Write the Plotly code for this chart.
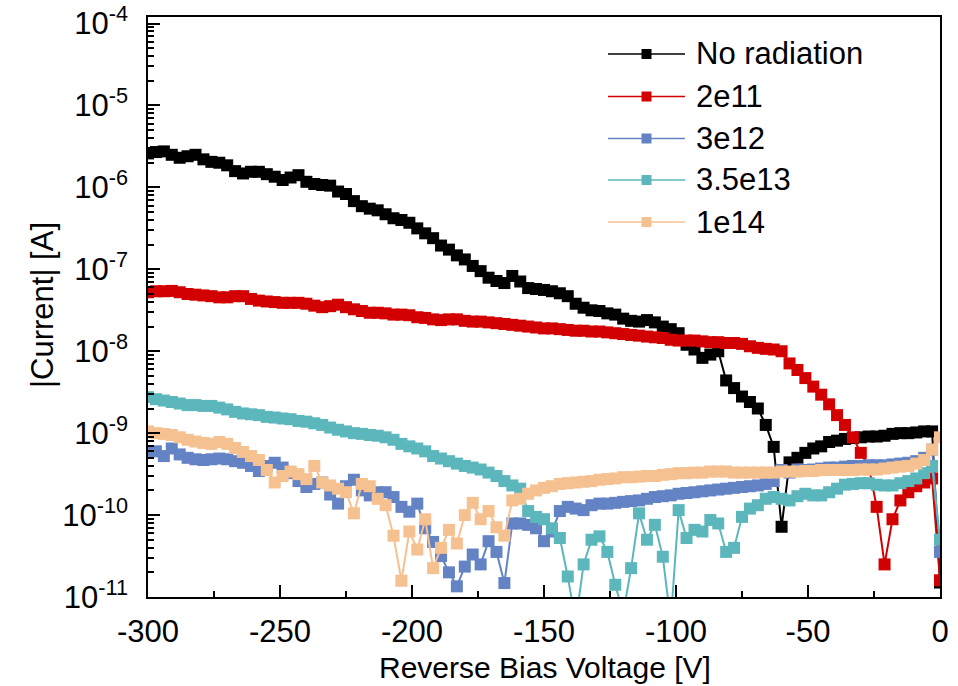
import plotly.graph_objects as go

# Reverse bias voltage [V]
voltage = [
    -300, -297, -294, -291, -288, -285, -282, -279, -276, -273,
    -270, -267, -264, -261, -258, -255, -252, -249, -246, -243,
    -240, -237, -234, -231, -228, -225, -222, -219, -216, -213,
    -210, -207, -204, -201, -198, -195, -192, -189, -186, -183,
    -180, -177, -174, -171, -168, -165, -162, -159, -156, -153,
    -150, -147, -144, -141, -138, -135, -132, -129, -126, -123,
    -120, -117, -114, -111, -108, -105, -102, -99, -96, -93,
    -90, -87, -84, -81, -78, -75, -72, -69, -66, -63,
    -60, -57, -54, -51, -48, -45, -42, -39, -36, -33,
    -30, -27, -24, -21, -18, -15, -12, -9, -6, -3,
    0,
]

# |Current| [A]
current_no_radiation = [
    2.6e-6, 2.7e-6, 2.75e-6, 2.5e-6, 2.3e-6, 2.4e-6, 2.5e-6, 2.2e-6, 2.05e-6, 2.0e-6,
    1.86e-6, 1.58e-6, 1.48e-6, 1.55e-6, 1.55e-6, 1.45e-6, 1.35e-6, 1.23e-6, 1.32e-6, 1.41e-6,
    1.17e-6, 1.10e-6, 1.07e-6, 1.05e-6, 8.9e-7, 8.3e-7, 6.8e-7, 5.9e-7, 5.5e-7, 5.25e-7,
    4.7e-7, 4.2e-7, 4.0e-7, 3.7e-7, 3.16e-7, 2.75e-7, 2.4e-7, 1.95e-7, 1.74e-7, 1.48e-7,
    1.32e-7, 1.10e-7, 9.5e-8, 7.9e-8, 7.2e-8, 6.8e-8, 8.3e-8, 7.1e-8, 5.9e-8, 5.75e-8,
    5.6e-8, 5.4e-8, 5.1e-8, 4.7e-8, 3.8e-8, 3.4e-8, 3.16e-8, 3.1e-8, 2.9e-8, 2.8e-8,
    2.5e-8, 2.35e-8, 2.3e-8, 2.4e-8, 2.25e-8, 2.0e-8, 1.86e-8, 1.66e-8, 1.2e-8, 1.05e-8,
    8.3e-9, 9.1e-9, 1.0e-8, 4.4e-9, 3.55e-9, 2.8e-9, 2.4e-9, 2.0e-9, 1.26e-9, 6.8e-10,
    7.2e-11, 4.4e-10, 5.0e-10, 5.75e-10, 6.5e-10, 6.9e-10, 7.8e-10, 8.1e-10, 8.5e-10, 8.7e-10,
    8.9e-10, 9.1e-10, 9.1e-10, 9.3e-10, 9.8e-10, 1.0e-9, 1.0e-9, 1.02e-9, 1.05e-9, 1.05e-9,
    1.5e-11,
]

current_2e11 = [
    5.25e-8, 5.4e-8, 5.4e-8, 5.45e-8, 5.25e-8, 5.0e-8, 4.9e-8, 4.8e-8, 4.7e-8, 4.55e-8,
    4.55e-8, 4.7e-8, 4.7e-8, 4.35e-8, 4.15e-8, 4.05e-8, 3.98e-8, 3.9e-8, 3.9e-8, 3.9e-8,
    3.8e-8, 3.6e-8, 3.45e-8, 3.55e-8, 3.7e-8, 3.45e-8, 3.25e-8, 3.1e-8, 2.95e-8, 2.95e-8,
    2.9e-8, 2.8e-8, 2.8e-8, 2.75e-8, 2.6e-8, 2.55e-8, 2.45e-8, 2.4e-8, 2.45e-8, 2.45e-8,
    2.35e-8, 2.3e-8, 2.3e-8, 2.25e-8, 2.2e-8, 2.15e-8, 2.1e-8, 2.05e-8, 2.0e-8, 1.95e-8,
    1.9e-8, 1.9e-8, 1.86e-8, 1.82e-8, 1.78e-8, 1.78e-8, 1.74e-8, 1.74e-8, 1.7e-8, 1.66e-8,
    1.62e-8, 1.58e-8, 1.55e-8, 1.51e-8, 1.48e-8, 1.45e-8, 1.38e-8, 1.35e-8, 1.35e-8, 1.35e-8,
    1.32e-8, 1.29e-8, 1.29e-8, 1.26e-8, 1.26e-8, 1.23e-8, 1.15e-8, 1.10e-8, 1.07e-8, 1.05e-8,
    1.0e-8, 7.1e-9, 5.9e-9, 4.7e-9, 3.7e-9, 2.95e-9, 2.25e-9, 1.66e-9, 1.26e-9, 8.9e-10,
    5.75e-10, 3.98e-10, 1.26e-10, 2.5e-11, 8.9e-11, 1.51e-10, 1.9e-10, 2.25e-10, 2.5e-10, 2.8e-10,
    1.6e-11,
]

current_3e12 = [
    5.9e-10, 6.0e-10, 5.25e-10, 6.5e-10, 5.5e-10, 5.0e-10, 4.8e-10, 4.7e-10, 4.8e-10, 4.9e-10,
    4.8e-10, 4.55e-10, 4.35e-10, 3.98e-10, 3.45e-10, 3.98e-10, 4.35e-10, 3.8e-10, 3.25e-10, 2.6e-10,
    2.2e-10, 2.4e-10, 2.5e-10, 1.78e-10, 1.38e-10, 2.25e-10, 2.7e-10, 2.0e-10, 1.74e-10, 1.9e-10,
    1.9e-10, 1.66e-10, 1.26e-10, 1.10e-10, 1.38e-10, 6.9e-11, 4.7e-11, 3.16e-11, 2.0e-11, 1.35e-11,
    2.35e-11, 3.3e-11, 2.5e-11, 4.8e-11, 3.55e-11, 1.48e-11, 7.9e-11, 7.9e-11, 7.6e-11, 6.9e-11,
    4.8e-11, 6.3e-11, 1.12e-10, 1.26e-10, 1.2e-10, 1.15e-10, 1.32e-10, 1.38e-10, 1.38e-10, 1.41e-10,
    1.45e-10, 1.48e-10, 1.51e-10, 1.58e-10, 1.66e-10, 1.7e-10, 1.74e-10, 1.82e-10, 1.86e-10, 1.9e-10,
    1.95e-10, 2.0e-10, 2.05e-10, 2.1e-10, 2.15e-10, 2.2e-10, 2.25e-10, 2.3e-10, 2.4e-10, 2.6e-10,
    3.55e-10, 3.3e-10, 3.6e-10, 3.55e-10, 3.6e-10, 3.7e-10, 3.8e-10, 3.8e-10, 3.9e-10, 3.98e-10,
    3.98e-10, 4.05e-10, 4.05e-10, 4.05e-10, 4.15e-10, 4.25e-10, 4.35e-10, 4.55e-10, 5.0e-10, 6.3e-10,
    3.55e-11,
]

current_3_5e13 = [
    2.75e-9, 2.6e-9, 2.5e-9, 2.4e-9, 2.3e-9, 2.2e-9, 2.2e-9, 2.15e-9, 2.15e-9, 2.05e-9,
    1.95e-9, 1.82e-9, 1.74e-9, 1.7e-9, 1.66e-9, 1.58e-9, 1.55e-9, 1.51e-9, 1.48e-9, 1.41e-9,
    1.38e-9, 1.32e-9, 1.26e-9, 1.17e-9, 1.10e-9, 1.05e-9, 1.0e-9, 9.8e-10, 9.5e-10, 9.3e-10,
    8.9e-10, 8.3e-10, 7.4e-10, 6.9e-10, 6.5e-10, 6.0e-10, 5.25e-10, 4.9e-10, 4.55e-10, 4.25e-10,
    3.98e-10, 3.8e-10, 3.6e-10, 3.3e-10, 3.0e-10, 2.6e-10, 2.3e-10, 2.1e-10, 1.12e-10, 9.5e-11,
    8.9e-11, 6.9e-11, 5.25e-11, 1.78e-11, 5e-12, 2.5e-11, 5.0e-11, 5.5e-11, 3.55e-11, 1.41e-11,
    6.3e-12, 2.25e-11, 1.05e-10, 5.0e-11, 7.6e-11, 3.1e-11, 5e-12, 1.15e-10, 5.25e-11, 6.6e-11,
    6.3e-11, 8.7e-11, 7.9e-11, 3.55e-11, 3.98e-11, 9.5e-11, 1.2e-10, 1.32e-10, 1.58e-10, 1.66e-10,
    1.58e-10, 1.51e-10, 1.7e-10, 1.82e-10, 1.74e-10, 1.74e-10, 1.9e-10, 2.1e-10, 2.35e-10, 2.4e-10,
    2.45e-10, 2.45e-10, 2.35e-10, 2.3e-10, 2.3e-10, 2.45e-10, 2.6e-10, 2.8e-10, 3.25e-10, 3.98e-10,
    5.0e-11,
]

current_1e14 = [
    1.05e-9, 1.0e-9, 9.8e-10, 9.5e-10, 8.9e-10, 8.3e-10, 7.9e-10, 7.6e-10, 7.4e-10, 7.8e-10,
    7.4e-10, 6.6e-10, 5.9e-10, 5.25e-10, 4.7e-10, 3.55e-10, 2.5e-10, 3.0e-10, 3.4e-10, 3.16e-10,
    2.75e-10, 3.98e-10, 2.5e-10, 2.3e-10, 2.1e-10, 1.9e-10, 1.05e-10, 2.4e-10, 2.25e-10, 1.58e-10,
    1.32e-10, 5.6e-11, 1.58e-11, 6.3e-11, 3.8e-11, 8.9e-11, 2.25e-11, 3.98e-11, 6.6e-11, 4.5e-11,
    1.0e-10, 1.41e-10, 8.9e-11, 1.12e-10, 7.1e-11, 5.6e-11, 1.51e-10, 1.58e-10, 1.82e-10, 2.0e-10,
    2.15e-10, 2.25e-10, 2.4e-10, 2.45e-10, 2.5e-10, 2.55e-10, 2.6e-10, 2.7e-10, 2.75e-10, 2.8e-10,
    2.9e-10, 2.9e-10, 2.95e-10, 3.0e-10, 3.0e-10, 3.1e-10, 3.16e-10, 3.25e-10, 3.25e-10, 3.3e-10,
    3.3e-10, 3.4e-10, 3.4e-10, 3.4e-10, 3.3e-10, 3.3e-10, 3.3e-10, 3.3e-10, 3.3e-10, 3.3e-10,
    3.4e-10, 3.4e-10, 3.4e-10, 3.45e-10, 3.45e-10, 3.55e-10, 3.55e-10, 3.55e-10, 3.55e-10, 3.55e-10,
    3.6e-10, 3.6e-10, 3.6e-10, 3.7e-10, 3.8e-10, 3.9e-10, 3.98e-10, 4.25e-10, 4.7e-10, 6.3e-10,
    8.9e-10,
]

series_names = ["No radiation", "2e11", "3e12", "3.5e13", "1e14"]
series_colors = ["#000000", "#D20000", "#6383C4", "#5CB7BC", "#F6C190"]
series_values = [current_no_radiation, current_2e11, current_3e12, current_3_5e13, current_1e14]

x_tick_vals = [-300, -250, -200, -150, -100, -50, 0]
x_tick_text = ["-300", "-250", "-200", "-150", "-100", "-50", "0"]
y_exponents = [-11, -10, -9, -8, -7, -6, -5, -4]

FONT = "Liberation Sans, Arial, sans-serif"

fig = go.Figure()
for name, vals, color in zip(series_names, series_values, series_colors):
    fig.add_trace(go.Scatter(
        x=voltage, y=vals, mode="lines+markers", name=name,
        line=dict(color=color, width=2),
        marker=dict(symbol="square", size=12, color=color, line=dict(width=0)),
        showlegend=False,
    ))

# Plot-area geometry in pixels (used only for the hand-drawn legend and titles)
L, R, T, B = 148, 940, 17, 597
PW, PH = R - L, B - T

def px_x(p):
    return (p - L) / PW

def px_y(p):
    return (B - p) / PH

shapes = []
annotations = []
legend_rows = [54, 96.5, 138.5, 180, 222]
for name, color, ry in zip(series_names, series_colors, legend_rows):
    yp = px_y(ry)
    shapes.append(dict(type="line", xref="paper", yref="paper",
                       x0=px_x(608), x1=px_x(685), y0=yp, y1=yp,
                       line=dict(color=color, width=1.5)))
    shapes.append(dict(type="rect", xref="paper", yref="paper",
                       x0=px_x(641.5), x1=px_x(651.5), y0=px_y(ry + 5), y1=px_y(ry - 5),
                       fillcolor=color, line=dict(width=0)))
    annotations.append(dict(xref="paper", yref="paper", x=px_x(694), y=yp,
                            xanchor="left", yanchor="middle", showarrow=False,
                            text=name, font=dict(family=FONT, size=31, color="black")))

annotations.append(dict(xref="paper", yref="paper", x=px_x(545), y=px_y(667),
                        xanchor="center", yanchor="middle", showarrow=False,
                        text="Reverse Bias Voltage [V]",
                        font=dict(family=FONT, size=30, color="black")))
annotations.append(dict(xref="paper", yref="paper", x=px_x(42), y=px_y(305),
                        xanchor="center", yanchor="middle", showarrow=False, textangle=-90,
                        text="|Current| [A]",
                        font=dict(family=FONT, size=31, color="black")))

minor_y = [k * 10.0 ** e for e in range(-11, -4) for k in range(2, 10)]

fig.update_layout(
    width=958, height=686,
    margin=dict(l=L, r=958 - R, t=T, b=686 - B, autoexpand=False),
    paper_bgcolor="white", plot_bgcolor="white",
    font=dict(family=FONT, size=30, color="black"),
    shapes=shapes, annotations=annotations,
    showlegend=False,
    xaxis=dict(
        range=[-300, 0], tickmode="array", tickvals=x_tick_vals, ticktext=x_tick_text,
        ticks="inside", ticklen=12, tickwidth=1.5, tickcolor="black",
        showline=True, linewidth=1.5, linecolor="black", mirror=True,
        showgrid=False, zeroline=False, automargin=False,
        tickfont=dict(family=FONT, size=31, color="black"),
        ticklabelstandoff=6,
        minor=dict(tickmode="array", tickvals=[-275, -225, -175, -125, -75, -25],
                   ticks="inside", ticklen=6, tickwidth=1.5, tickcolor="black", showgrid=False),
    ),
    yaxis=dict(
        type="log", range=[-11, -3.92], tickmode="array",
        tickvals=[10.0 ** e for e in y_exponents],
        ticktext=["10<sup>%d</sup>" % e for e in y_exponents],
        ticks="inside", ticklen=12, tickwidth=1.5, tickcolor="black",
        showline=True, linewidth=1.5, linecolor="black", mirror=True,
        showgrid=False, zeroline=False, automargin=False,
        tickfont=dict(family=FONT, size=31, color="black"),
        ticklabelstandoff=12,
        minor=dict(tickmode="array", tickvals=minor_y,
                   ticks="inside", ticklen=6, tickwidth=1.5, tickcolor="black", showgrid=False),
    ),
)

fig.write_html("out.html", config={"displayModeBar": False},
               post_script="document.body.style.margin='0px';document.body.style.overflow='hidden';")
